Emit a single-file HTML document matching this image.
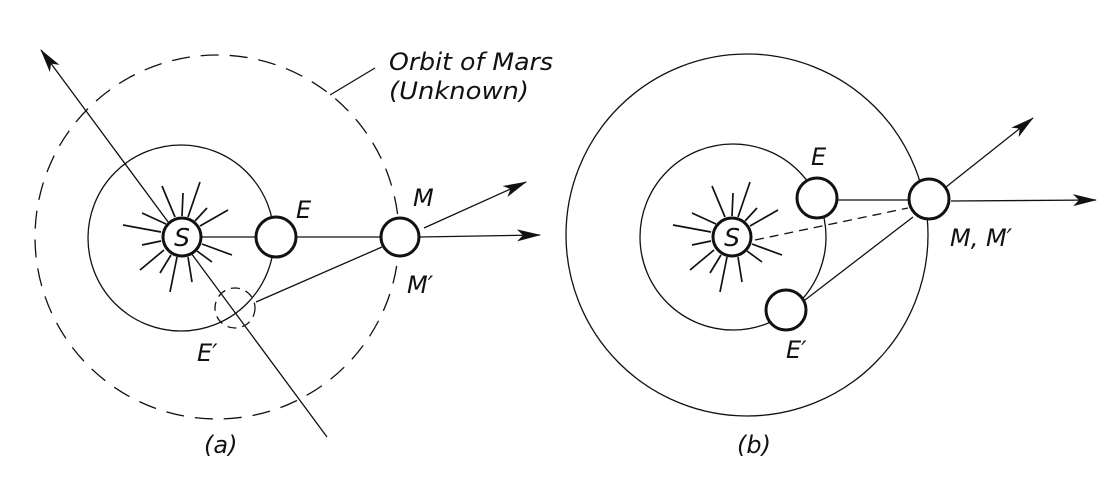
<!DOCTYPE html>
<html><head><meta charset="utf-8"><style>
html,body{margin:0;padding:0;background:#fff;}
svg{display:block;}
text{font-family:"DejaVu Sans","Liberation Sans",sans-serif;font-style:italic;fill:#111;}
</style></head><body>
<svg width="1116" height="489" viewBox="0 0 1116 489" xmlns="http://www.w3.org/2000/svg">
<defs>
<marker id="ar" viewBox="0 0 24 12" refX="23" refY="6" markerWidth="24" markerHeight="12" markerUnits="userSpaceOnUse" orient="auto">
<path d="M0,0 L24,6 L0,12 L6,6 Z" fill="#111"/>
</marker>
<g id="rays" stroke="#111" stroke-width="1.7" fill="none">
<line x1="-21" y1="-5" x2="-59" y2="-12"/>
<line x1="-21" y1="4" x2="-40" y2="8"/>
<line x1="-18" y1="13" x2="-42" y2="33"/>
<line x1="-11" y1="18" x2="-22" y2="36"/>
<line x1="-5" y1="20" x2="-12" y2="55"/>
<line x1="6" y1="20" x2="10" y2="45"/>
<line x1="15" y1="14" x2="30" y2="25"/>
<line x1="20" y1="7" x2="50" y2="18"/>
<line x1="18" y1="-11" x2="46" y2="-27"/>
<line x1="13" y1="-16" x2="25" y2="-29"/>
<line x1="6" y1="-20" x2="18" y2="-55"/>
<line x1="0" y1="-21" x2="1" y2="-44"/>
<line x1="-7" y1="-20" x2="-20" y2="-51"/>
<line x1="-16" y1="-13" x2="-40" y2="-24"/>
</g>
</defs>
<g stroke="#111" fill="none" stroke-width="1.3">
<!-- (a) -->
<circle cx="217" cy="237" r="182" stroke-dasharray="18,11"/>
<circle cx="181" cy="238" r="93"/>
<line x1="327" y1="437" x2="41" y2="50" marker-end="url(#ar)"/>
<line x1="200" y1="237" x2="256" y2="237"/>
<line x1="296" y1="237" x2="381" y2="237"/>
<line x1="256" y1="302" x2="382" y2="247"/>
<line x1="419" y1="237" x2="540" y2="235" marker-end="url(#ar)"/>
<line x1="424" y1="228" x2="526" y2="182" marker-end="url(#ar)"/>
<line x1="375" y1="68" x2="330" y2="95"/>
<circle cx="235" cy="308" r="20" stroke-dasharray="9,6" fill="none"/>
<use href="#rays" x="182" y="237"/>
<circle cx="182" cy="237" r="19" stroke-width="3" fill="#fff"/>
<circle cx="276" cy="237" r="20" stroke-width="3" fill="#fff"/>
<circle cx="400" cy="237" r="19" stroke-width="3" fill="#fff"/>
<!-- (b) -->
<circle cx="747" cy="235" r="181"/>
<circle cx="733" cy="237" r="93"/>
<line x1="755" y1="240" x2="908" y2="208" stroke-dasharray="9,6"/>
<line x1="837" y1="200" x2="909" y2="200"/>
<line x1="805" y1="300" x2="913" y2="217"/>
<line x1="951" y1="201" x2="1096" y2="200" marker-end="url(#ar)"/>
<line x1="946" y1="187" x2="1033" y2="118" marker-end="url(#ar)"/>
<use href="#rays" x="732" y="237"/>
<circle cx="732" cy="237" r="19" stroke-width="3" fill="#fff"/>
<circle cx="817" cy="198" r="20" stroke-width="3" fill="#fff"/>
<circle cx="786" cy="310" r="20" stroke-width="3" fill="#fff"/>
<circle cx="929" cy="199" r="20" stroke-width="3" fill="#fff"/>
</g>
<g font-size="24">
<text x="389" y="70" textLength="164" lengthAdjust="spacingAndGlyphs">Orbit of Mars</text>
<text x="389" y="99" textLength="140" lengthAdjust="spacingAndGlyphs">(Unknown)</text>
<text x="296" y="218">E</text>
<text x="413" y="206">M</text>
<text x="407" y="293">M′</text>
<text x="197" y="361">E′</text>
<text x="204" y="453">(a)</text>
<text x="811" y="165">E</text>
<text x="950" y="246">M, M′</text>
<text x="786" y="358">E′</text>
<text x="737" y="453">(b)</text>
<text x="182" y="246" font-size="25" text-anchor="middle">S</text>
<text x="732" y="246" font-size="25" text-anchor="middle">S</text>
</g>
</svg>
</body></html>
